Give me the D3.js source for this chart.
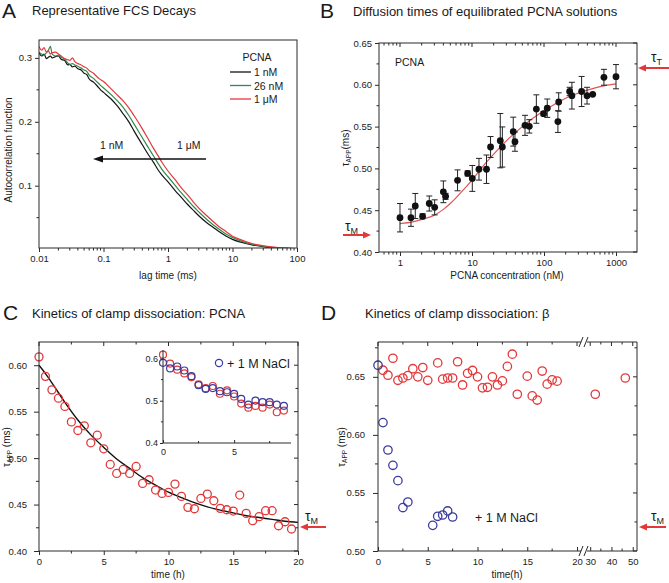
<!DOCTYPE html>
<html><head><meta charset="utf-8">
<script src="https://cdn.jsdelivr.net/npm/d3@7"></script>
<style>body{margin:0;background:#fff} svg text{font-family:"Liberation Sans",Arial,sans-serif}</style>
</head><body><svg id="c" width="669" height="583"></svg>
<script>
// ---------- DATA ----------
// Panel A: FCS decays
const lagTimes = [0.01,0.011,0.012,0.013,0.014,0.015,0.016,0.018,0.02,0.022,0.025,0.028,0.03,0.033,0.036,0.04,0.045,0.05,0.055,0.06,0.07,0.08,0.09,0.1,0.13,0.16,0.2,0.25,0.3,0.4,0.5,0.6,0.7,0.8,1,1.3,1.6,2,2.5,3,4,5,6,8,10,13,16,20,30,40,50,70,100];
const fcs1nM = [0.308,0.303,0.306,0.299,0.301,0.303,0.300,0.302,0.303,0.298,0.296,0.289,0.290,0.286,0.287,0.283,0.281,0.276,0.274,0.267,0.262,0.256,0.250,0.246,0.236,0.226,0.213,0.199,0.185,0.164,0.148,0.136,0.125,0.117,0.106,0.092,0.082,0.071,0.061,0.053,0.042,0.035,0.029,0.021,0.016,0.012,0.0095,0.0075,0.0045,0.003,0.0025,0.0018,0.0012];
const fcs26nM = [0.309,0.306,0.304,0.308,0.312,0.318,0.306,0.303,0.304,0.301,0.298,0.292,0.290,0.291,0.289,0.287,0.284,0.281,0.279,0.273,0.268,0.262,0.257,0.253,0.243,0.234,0.223,0.209,0.196,0.175,0.159,0.146,0.135,0.126,0.114,0.100,0.089,0.078,0.067,0.059,0.047,0.039,0.033,0.024,0.019,0.014,0.011,0.0085,0.0053,0.0036,0.0028,0.0020,0.0013];
const fcs1uM = [0.318,0.312,0.316,0.309,0.311,0.306,0.308,0.309,0.306,0.303,0.299,0.297,0.296,0.300,0.294,0.291,0.289,0.286,0.284,0.280,0.276,0.270,0.266,0.263,0.252,0.243,0.233,0.221,0.209,0.189,0.172,0.158,0.147,0.137,0.123,0.109,0.097,0.086,0.074,0.065,0.053,0.044,0.037,0.028,0.021,0.016,0.0125,0.0095,0.006,0.0042,0.0032,0.0022,0.0014];
const fcsSeries = ["1 nM","26 nM","1 \u03bcM"];
const aTicksX = [0.01,0.1,1,10,100];
const aTicksY = [0.1,0.2,0.3];

// Panel B: diffusion times
const pcnaConc = [1.0,1.42,1.63,2.06,2.55,3.03,4.0,4.3,6.3,8.7,10.1,12.5,15.9,18.1,24.7,26.4,37.4,39.5,54.5,62.5,78.3,98.6,111,160,156,227,244,333,396,475,680,1000];
const tauApp = [0.441,0.441,0.455,0.4427,0.458,0.4534,0.472,0.4666,0.4857,0.494,0.488,0.499,0.499,0.5256,0.5332,0.5256,0.544,0.532,0.5515,0.5503,0.571,0.5655,0.572,0.5794,0.556,0.592,0.587,0.592,0.587,0.5886,0.609,0.6097];
const tauErr = [0.017,0.0103,0.015,0.003,0.009,0.009,0.013,0.0036,0.0125,0.003,0.0155,0.013,0.017,0.0125,0.0325,0.024,0.0173,0.0115,0.012,0.008,0.017,0.0025,0.011,0.011,0.013,0.005,0.016,0.018,0.01,0,0.0095,0.0145];
const fitConc = [1,1.5,2,3,4,5,7,10,15,20,30,50,70,100,150,200,300,500,700,1000];
const fitTau = [0.434,0.436,0.439,0.444,0.451,0.458,0.471,0.486,0.505,0.517,0.533,0.550,0.560,0.569,0.578,0.584,0.590,0.596,0.599,0.601];
const bTicksX = [1,10,100,1000];
const bTicksY = [0.40,0.45,0.50,0.55,0.60,0.65];

// Panel C: PCNA dissociation
const cTime = [0,0.5,1,1.5,2,2.5,3,3.5,4,4.5,5,5.5,6,6.5,7,7.5,8,8.5,9,9.5,10,10.5,11,11.5,12,12.5,13,13.5,14,14.5,15,15.5,16,16.5,17,17.5,18,18.5,19,19.5];
const cTau = [0.609,0.588,0.5735,0.5645,0.5556,0.539,0.5297,0.5348,0.5165,0.5247,0.510,0.4932,0.4835,0.4878,0.4835,0.491,0.4728,0.4767,0.4656,0.462,0.4631,0.472,0.4588,0.447,0.4455,0.4566,0.4613,0.4541,0.4459,0.4444,0.443,0.4602,0.4405,0.4326,0.437,0.4434,0.4434,0.4272,0.4315,0.4237];
const cFitTime = [0,0.5,1,2,3,4,5,6,7,8,9,10,11,12,13,14,15,16,17,18,19,20];
const cFitTau = [0.600,0.591,0.581,0.560,0.541,0.525,0.5115,0.499,0.489,0.479,0.471,0.4634,0.4575,0.452,0.4475,0.444,0.441,0.438,0.436,0.434,0.432,0.4308];
const insetTime = [0,0.5,1,1.5,2,2.5,3,3.5,4,4.5,5,5.5,6,6.5,7,7.5,8,8.5];
const insetSaltTau = [0.5897,0.5763,0.581,0.5715,0.558,0.5368,0.528,0.530,0.5225,0.520,0.516,0.5043,0.491,0.5004,0.4965,0.4965,0.491,0.488];
const cTicksX = [0,5,10,15,20];
const cTicksY = [0.40,0.45,0.50,0.55,0.60];
const insetTicksX = [0,5];
const insetTicksY = [0.4,0.5,0.6];

// Panel D: beta dissociation
const dTime = [0.5,1,1.5,2,2.5,3,3.5,4,4.5,5,6,6.5,7,7.5,8,8.5,9,9.5,10,10.5,11,11.5,12,12.5,13,13.5,14,15,15.5,16,16.5,17,17.5,18,32.4,46.5];
const dTau = [0.6557,0.6514,0.666,0.647,0.649,0.651,0.657,0.650,0.658,0.647,0.662,0.648,0.649,0.649,0.663,0.643,0.653,0.6555,0.650,0.6405,0.641,0.650,0.643,0.6465,0.659,0.6695,0.635,0.6506,0.6336,0.630,0.655,0.6437,0.6474,0.6463,0.635,0.649];
const dSaltTime = [0,0.5,1,1.5,2,2.5,3,5.5,6,6.5,7,7.5];
const dSaltTau = [0.660,0.6106,0.587,0.5738,0.5606,0.5374,0.5422,0.5221,0.5299,0.531,0.5345,0.5293];
const dTicksX1 = [0,5,10,15,20];
const dTicksX2 = [30,40,50];
const dTicksY = [0.50,0.55,0.60,0.65];

// ---------- HELPERS ----------
const svg = d3.select("#c");
const INK = "#2a2a2a", RED = "#e3383a", BLUE = "#3b3c9c", GREEN = "#2f8a50";
const defs = svg.append("defs");

function text(g, x, y, s, size, anchor, color) {
  return g.append("text").attr("x", x).attr("y", y).attr("font-size", size)
    .attr("text-anchor", anchor || "start").attr("fill", color || "#1a1a1a").text(s);
}
function frame(g, x0, y0, x1, y1) {
  g.append("rect").attr("x", x0).attr("y", y0).attr("width", x1 - x0).attr("height", y1 - y0)
    .attr("fill", "none").attr("stroke", INK).attr("stroke-width", 1);
}
function ticksX(g, scale, vals, y, len) {
  g.append("g").selectAll("line").data(vals).join("line")
    .attr("x1", d => scale(d)).attr("x2", d => scale(d)).attr("y1", y).attr("y2", y + len)
    .attr("stroke", INK).attr("stroke-width", 1);
}
function ticksY(g, scale, vals, x, len) {
  g.append("g").selectAll("line").data(vals).join("line")
    .attr("y1", d => scale(d)).attr("y2", d => scale(d)).attr("x1", x).attr("x2", x + len)
    .attr("stroke", INK).attr("stroke-width", 1);
}
function styleAxis(sel, size) {
  sel.select(".domain").remove();
  sel.attr("font-family", null).attr("font-size", null);
  sel.selectAll("text").attr("font-size", size || 9.5).attr("fill", "#222");
  sel.selectAll("line").attr("stroke", INK);
}
function arrow(g, x1, y1, x2, y2, color, w, hl, hw) {
  const ang = Math.atan2(y2 - y1, x2 - x1);
  const bx = x2 - hl * Math.cos(ang), by = y2 - hl * Math.sin(ang);
  g.append("line").attr("x1", x1).attr("y1", y1).attr("x2", bx).attr("y2", by)
    .attr("stroke", color).attr("stroke-width", w);
  const px = -Math.sin(ang) * hw / 2, py = Math.cos(ang) * hw / 2;
  g.append("path").attr("d", `M${x2},${y2}L${bx + px},${by + py}L${bx - px},${by - py}Z`).attr("fill", color);
}
function tauLabel(g, x, y, sub) {
  const t = g.append("text").attr("x", x).attr("y", y).attr("font-size", 14).attr("fill", "#1a1a1a");
  t.append("tspan").text("\u03c4");
  t.append("tspan").attr("font-size", 9).attr("dy", 3).text(sub);
}
function yLabel(g, x, y, space) {
  const t = g.append("text").attr("transform", `translate(${x},${y}) rotate(-90)`)
    .attr("text-anchor", "middle").attr("font-size", 10).attr("fill", "#1a1a1a");
  t.append("tspan").text("\u03c4");
  t.append("tspan").attr("font-size", 6.5).attr("dy", 2).text("APP");
  t.append("tspan").attr("dy", -2).text(space ? " (ms)" : "(ms)");
}
function minorsLog(decades, from, to) {
  const out = [];
  decades.forEach(d => { for (let k = 2; k <= 9; k++) { const v = d * k; if (v > from && v < to) out.push(v); } });
  return out;
}

// ---------- PANEL A ----------
{
  const g = svg.append("g");
  const L = 39, R = 297, T = 40, B = 248;
  const x = d3.scaleLog().domain([0.01, 100]).range([L, R]);
  const y = d3.scaleLinear().domain([0.0025, 0.328]).range([B, T]);
  defs.append("clipPath").attr("id", "clipA").append("rect").attr("x", L).attr("y", T).attr("width", R - L).attr("height", B - T);
  const line = d3.line().x((d, i) => x(lagTimes[i])).y(d => y(d)).curve(d3.curveMonotoneX);
  const series = [fcs1nM, fcs26nM, fcs1uM], cols = ["#151515", GREEN, RED];
  const cg = g.append("g").attr("clip-path", "url(#clipA)");
  series.forEach((s, i) => cg.append("path").attr("d", line(s)).attr("fill", "none").attr("stroke", cols[i]).attr("stroke-width", 1.2));
  frame(g, L, T, R, B);
  g.append("g").attr("transform", `translate(0,${B})`)
    .call(d3.axisBottom(x).tickValues(aTicksX).tickFormat(d3.format("~g")).tickSize(4).tickPadding(3)).call(styleAxis);
  ticksX(g, x, minorsLog([0.01, 0.1, 1, 10], 0.01, 100), B, 2.5);
  g.append("g").attr("transform", `translate(${L},0)`)
    .call(d3.axisLeft(y).tickValues(aTicksY).tickFormat(d3.format(".1f")).tickSize(4).tickPadding(3)).call(styleAxis);
  ticksY(g, y, [0.05, 0.15, 0.25], L, -2.5);
  // legend
  text(g, 257, 61, "PCNA", 10.5, "middle");
  fcsSeries.forEach((s, i) => {
    const yy = 72 + i * 13.5;
    g.append("line").attr("x1", 230).attr("x2", 251).attr("y1", yy).attr("y2", yy).attr("stroke", cols[i]).attr("stroke-width", 1.3);
    text(g, 254, yy + 4, s, 10.5);
  });
  // arrow annotation
  arrow(g, 206, y(0.1417), 93, y(0.1417), "#111", 1.4, 10, 7);
  text(g, 100, 149, "1 nM", 10.5);
  text(g, 177, 149, "1 \u03bcM", 10.5);
  // labels
  text(g, 168, 279, "lag time (ms)", 10, "middle");
  g.append("text").attr("transform", "translate(12,150) rotate(-90)").attr("text-anchor", "middle")
    .attr("font-size", 10).attr("fill", "#1a1a1a").text("Autocorrelation function");
  text(g, 2, 18, "A", 21);
  text(g, 32, 15, "Representative FCS Decays", 13);
}

// ---------- PANEL B ----------
{
  const g = svg.append("g");
  const L = 379, R = 637, T = 43, B = 252;
  const x = d3.scaleLog().domain([0.511, 1957]).range([L, R]);
  const y = d3.scaleLinear().domain([0.40, 0.65]).range([B, T]);
  const minX = minorsLog([0.1, 1, 10, 100, 1000], 0.511, 1957);
  const minY = [0.425, 0.475, 0.525, 0.575, 0.625];
  // fit
  const fit = d3.line().x((d, i) => x(fitConc[i])).y(d => y(d)).curve(d3.curveMonotoneX);
  g.append("path").attr("d", fit(fitTau)).attr("fill", "none").attr("stroke", "#e05555").attr("stroke-width", 1.2);
  // error bars
  const eb = g.append("g").attr("stroke", "#222").attr("stroke-width", 1);
  pcnaConc.forEach((c, i) => {
    if (tauErr[i] <= 0) return;
    const cx = x(c), y1 = y(tauApp[i] + tauErr[i]), y2 = y(tauApp[i] - tauErr[i]);
    eb.append("line").attr("x1", cx).attr("x2", cx).attr("y1", y1).attr("y2", y2);
    eb.append("line").attr("x1", cx - 3).attr("x2", cx + 3).attr("y1", y1).attr("y2", y1);
    eb.append("line").attr("x1", cx - 3).attr("x2", cx + 3).attr("y1", y2).attr("y2", y2);
  });
  g.append("g").selectAll("circle").data(pcnaConc).join("circle")
    .attr("cx", d => x(d)).attr("cy", (d, i) => y(tauApp[i])).attr("r", 3.4).attr("fill", "#111");
  frame(g, L, T, R, B);
  g.append("g").attr("transform", `translate(0,${B})`)
    .call(d3.axisBottom(x).tickValues(bTicksX).tickFormat(d3.format("~g")).tickSize(4).tickPadding(3)).call(styleAxis);
  ticksX(g, x, minX, B, 2.5);
  ticksX(g, x, bTicksX, T, 4); ticksX(g, x, minX, T, 2.5);
  g.append("g").attr("transform", `translate(${L},0)`)
    .call(d3.axisLeft(y).tickValues(bTicksY).tickFormat(d3.format(".2f")).tickSize(4).tickPadding(3)).call(styleAxis);
  ticksY(g, y, minY, L, -2.5);
  ticksY(g, y, bTicksY, R, -4); ticksY(g, y, minY, R, -2.5);
  text(g, 395, 66, "PCNA", 10.5);
  // tau arrows
  arrow(g, 669, 68, 638, 68, RED, 2, 8, 7);
  tauLabel(g, 651, 62, "T");
  arrow(g, 343, 235, 371, 235, RED, 2, 8, 7);
  tauLabel(g, 345, 231, "M");
  text(g, 507, 279, "PCNA concentration (nM)", 10, "middle");
  yLabel(g, 349, 148, false);
  text(g, 320, 18, "B", 21);
  text(g, 353, 16, "Diffusion times of equilibrated PCNA solutions", 13);
}

// ---------- PANEL C ----------
{
  const g = svg.append("g");
  const L = 39, R = 298, T = 342, B = 551;
  const x = d3.scaleLinear().domain([0, 20]).range([L, R]);
  const y = d3.scaleLinear().domain([0.40, 0.625]).range([B, T]);
  const minX = [2.5, 7.5, 12.5, 17.5];
  const minY = [0.425, 0.475, 0.525, 0.575];
  const fit = d3.line().x((d, i) => x(cFitTime[i])).y(d => y(d)).curve(d3.curveMonotoneX);
  g.append("path").attr("d", fit(cFitTau)).attr("fill", "none").attr("stroke", "#111").attr("stroke-width", 1.4);
  g.append("g").selectAll("circle").data(cTime).join("circle")
    .attr("cx", d => x(d)).attr("cy", (d, i) => y(cTau[i])).attr("r", 4)
    .attr("fill", "none").attr("stroke", RED).attr("stroke-width", 1.3);
  frame(g, L, T, R, B);
  g.append("g").attr("transform", `translate(0,${B})`)
    .call(d3.axisBottom(x).tickValues(cTicksX).tickFormat(d3.format("~g")).tickSize(4).tickPadding(3)).call(styleAxis);
  ticksX(g, x, minX, B, 2.5);
  ticksX(g, x, cTicksX, T, 4); ticksX(g, x, minX, T, 2.5);
  g.append("g").attr("transform", `translate(${L},0)`)
    .call(d3.axisLeft(y).tickValues(cTicksY).tickFormat(d3.format(".2f")).tickSize(5).tickPadding(7)).call(styleAxis);
  ticksY(g, y, minY, L, -3);
  ticksY(g, y, cTicksY, R, -4); ticksY(g, y, minY, R, -2.5);
  // inset
  const iL = 163, iR = 291, iT = 350, iB = 443;
  const ix = d3.scaleLinear().domain([0, 9]).range([iL, iR]);
  const iy = d3.scaleLinear().domain([0.4, 0.62]).range([iB, iT]);
  const ig = g.append("g");
  ig.append("g").selectAll("circle").data(insetTime).join("circle")
    .attr("cx", d => ix(d)).attr("cy", (d, i) => iy(cTau[i])).attr("r", 3.5)
    .attr("fill", "none").attr("stroke", RED).attr("stroke-width", 1.2);
  ig.append("g").selectAll("circle").data(insetTime).join("circle")
    .attr("cx", d => ix(d)).attr("cy", (d, i) => iy(insetSaltTau[i])).attr("r", 3.5)
    .attr("fill", "none").attr("stroke", BLUE).attr("stroke-width", 1.2);
  ig.append("line").attr("x1", iL).attr("x2", iL).attr("y1", iT).attr("y2", iB).attr("stroke", INK);
  ig.append("line").attr("x1", iL).attr("x2", iR).attr("y1", iB).attr("y2", iB).attr("stroke", INK);
  ig.append("g").attr("transform", `translate(0,${iB})`)
    .call(d3.axisBottom(ix).tickValues(insetTicksX).tickFormat(d3.format("~g")).tickSize(-3).tickPadding(6)).call(s => styleAxis(s, 9));
  ticksX(ig, ix, [2.5, 7.5], iB, -2);
  ig.append("g").attr("transform", `translate(${iL},0)`)
    .call(d3.axisLeft(iy).tickValues(insetTicksY).tickFormat(d3.format(".1f")).tickSize(3).tickPadding(2)).call(s => styleAxis(s, 9));
  ticksY(ig, iy, [0.45, 0.55], iL, -2);
  ig.append("circle").attr("cx", 219).attr("cy", 363).attr("r", 3.6).attr("fill", "none").attr("stroke", BLUE).attr("stroke-width", 1.2);
  text(ig, 227, 368, "+ 1 M NaCl", 12.5);
  // tau arrow
  arrow(g, 326, 527, 300, 527, RED, 2, 8, 7);
  tauLabel(g, 305, 521, "M");
  text(g, 168, 578, "time (h)", 10, "middle");
  yLabel(g, 10, 447, true);
  text(g, 3, 320, "C", 21);
  text(g, 32, 318, "Kinetics of clamp dissociation: PCNA", 13);
}

// ---------- PANEL D ----------
{
  const g = svg.append("g");
  const L = 378, R = 637, T = 342, B = 551, brk1 = 581, brk2 = 587;
  const x1 = d3.scaleLinear().domain([0, 20.4]).range([L, brk1]);
  const x2 = d3.scaleLinear().domain([28.5, 52]).range([brk2, R]);
  const xf = t => (t <= 20.4 ? x1(t) : x2(t));
  const y = d3.scaleLinear().domain([0.50, 0.68]).range([B, T]);
  const minY = [0.525, 0.575, 0.625, 0.675];
  g.append("g").selectAll("circle").data(dTime).join("circle")
    .attr("cx", d => xf(d)).attr("cy", (d, i) => y(dTau[i])).attr("r", 4.2)
    .attr("fill", "none").attr("stroke", RED).attr("stroke-width", 1.3);
  g.append("g").selectAll("circle").data(dSaltTime).join("circle")
    .attr("cx", d => xf(d)).attr("cy", (d, i) => y(dSaltTau[i])).attr("r", 4.2)
    .attr("fill", "none").attr("stroke", BLUE).attr("stroke-width", 1.3);
  // frame with breaks
  const fl = g.append("g").attr("stroke", INK).attr("stroke-width", 1);
  fl.append("line").attr("x1", L).attr("x2", L).attr("y1", T).attr("y2", B);
  fl.append("line").attr("x1", R).attr("x2", R).attr("y1", T).attr("y2", B);
  [T, B].forEach(yy => {
    fl.append("line").attr("x1", L).attr("x2", brk1).attr("y1", yy).attr("y2", yy);
    fl.append("line").attr("x1", brk2).attr("x2", R).attr("y1", yy).attr("y2", yy);
    [brk1, brk2 - 1].forEach(bx => fl.append("line").attr("x1", bx - 2).attr("x2", bx + 2).attr("y1", yy + 5).attr("y2", yy - 5));
  });
  g.append("g").attr("transform", `translate(0,${B})`)
    .call(d3.axisBottom(x1).tickValues(dTicksX1).tickFormat(d3.format("~g")).tickSize(-4).tickPadding(7)).call(styleAxis);
  g.append("g").attr("transform", `translate(0,${B})`)
    .call(d3.axisBottom(x2).tickValues(dTicksX2).tickFormat(d3.format("~g")).tickSize(-4).tickPadding(7)).call(styleAxis);
  ticksX(g, x1, [2.5, 7.5, 12.5, 17.5], B, -2.5);
  ticksX(g, x2, [35, 45], B, -2.5);
  ticksX(g, x1, dTicksX1, T, 4); ticksX(g, x1, [2.5, 7.5, 12.5, 17.5], T, 2.5);
  ticksX(g, x2, dTicksX2, T, 4); ticksX(g, x2, [35, 45], T, 2.5);
  g.append("g").attr("transform", `translate(${L},0)`)
    .call(d3.axisLeft(y).tickValues(dTicksY).tickFormat(d3.format(".2f")).tickSize(5).tickPadding(8)).call(styleAxis);
  ticksY(g, y, minY, L, -3);
  ticksY(g, y, dTicksY, R, -4); ticksY(g, y, minY, R, -2.5);
  text(g, 475, 522, "+ 1 M NaCl", 12.5);
  arrow(g, 666, 527, 639, 527, RED, 2, 8, 7);
  tauLabel(g, 651, 521, "M");
  text(g, 507, 578, "time(h)", 10, "middle");
  yLabel(g, 345, 447, true);
  text(g, 321, 320, "D", 21);
  text(g, 365, 318, "Kinetics of clamp dissociation: \u03b2", 13);
}
</script></body></html>
